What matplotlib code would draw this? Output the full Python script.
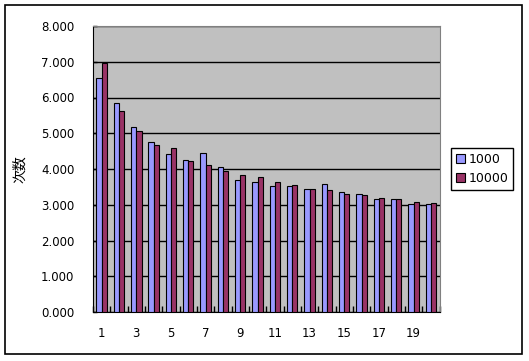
import numpy as np
import matplotlib.pyplot as plt
from matplotlib.patches import Rectangle

plt.rcParams['font.family'] = ['Noto Sans CJK JP', 'DejaVu Sans']

# 数据
cats = np.arange(1, 21)
s1000 = [6.54, 5.84, 5.17, 4.75, 4.41, 4.24, 4.44, 4.05, 3.68, 3.65,
         3.52, 3.52, 3.43, 3.57, 3.37, 3.29, 3.15, 3.15, 3.01, 3.01]
s10000 = [6.97, 5.61, 5.07, 4.66, 4.58, 4.21, 4.10, 3.95, 3.82, 3.79,
          3.63, 3.54, 3.43, 3.40, 3.29, 3.26, 3.18, 3.15, 3.07, 3.04]
names = ['1000', '10000']
yticks = np.arange(0, 9)

fig = plt.figure(figsize=(5.29, 3.61), dpi=100)
fig.patches.append(Rectangle((5/529, 1-354/361), 517/529, 349/361,
                             transform=fig.transFigure, fill=False,
                             edgecolor='black', linewidth=1.2))

ax = fig.add_axes([93/529, 1-312/361, 346.5/529, 286/361])
ax.set_facecolor('#C0C0C0')
w = 0.3
ax.bar(cats - w/2, s1000, w, color='#9999FF', edgecolor='black', linewidth=0.8, label=names[0], zorder=3)
ax.bar(cats + w/2, s10000, w, color='#993366', edgecolor='black', linewidth=0.8, label=names[1], zorder=3)

ax.set_xlim(0.5, 20.5)
ax.set_ylim(0, 8)
ax.set_yticks(yticks)
ax.set_yticklabels(['%.3f' % v for v in yticks], fontsize=8.5, family='DejaVu Sans')
ax.yaxis.grid(True, color='black', linewidth=1)
ax.set_axisbelow(True)
ax.set_xticks(np.arange(0.5, 21, 1))
ax.set_xticklabels([])
ax.set_xticks(cats[::2], minor=True)
ax.set_xticklabels([str(c) for c in cats[::2]], minor=True, fontsize=8.5, family='DejaVu Sans')
ax.tick_params(axis='x', which='major', direction='in', length=4, width=1)
ax.tick_params(axis='x', which='minor', length=0, pad=11)
ax.tick_params(axis='y', direction='in', length=3, width=1, pad=13.5)
ax.spines['top'].set_color('#808080')
ax.spines['right'].set_color('#808080')
ax.set_ylabel('次数', fontsize=10, labelpad=10)

fig.legend(loc='upper left', bbox_to_anchor=(451/529, 1-148/361), borderaxespad=0,
           frameon=True, fancybox=False, edgecolor='black', framealpha=1,
           handlelength=0.7, handleheight=0.7, handletextpad=0.3,
           borderpad=0.4, labelspacing=0.45, prop={'family': 'DejaVu Sans', 'size': 9})

fig.savefig('out.png', dpi=100, facecolor='white')
